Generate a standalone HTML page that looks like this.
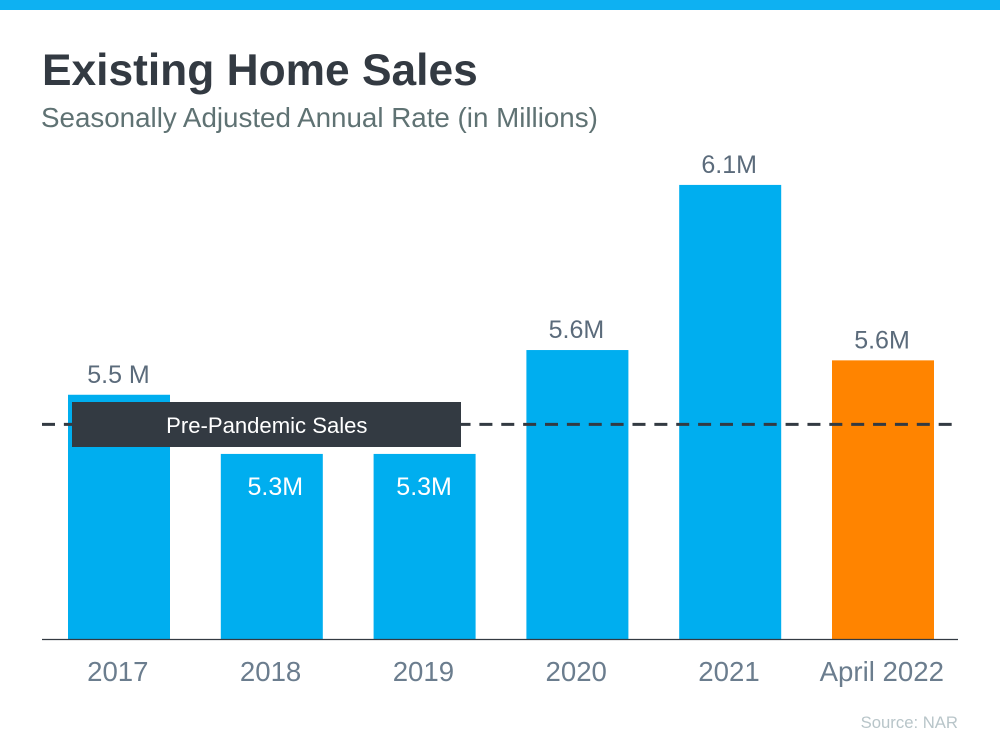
<!DOCTYPE html>
<html lang="en">
<head>
<meta charset="utf-8">
<title>Existing Home Sales</title>
<style>
html,body{margin:0;padding:0;background:#fff;}
#stage{display:block;width:1000px;height:750px;}
text{font-family:"Liberation Sans",Arial,sans-serif;}
</style>
</head>
<body>
<svg id="stage" width="1000" height="750" viewBox="0 0 1000 750" xmlns="http://www.w3.org/2000/svg">
  <rect x="0" y="0" width="1000" height="750" fill="#ffffff"/>
  <rect x="0" y="0" width="1000" height="10" fill="#0eb1f2"/>
  <text x="42" y="85" font-size="44.3" font-weight="700" fill="#333a42">Existing Home Sales</text>
  <text x="41" y="127" font-size="27.75" fill="#5f7273">Seasonally Adjusted Annual Rate (in Millions)</text>
  <g id="bars"></g>
  <line id="ref-line" x1="42" x2="958" stroke="#333a42" stroke-width="3" stroke-dasharray="13 8.87"></line>
  <rect id="ref-box" x="72" y="402" width="389" height="45" fill="#333a42"/>
  <text id="ref-text" x="266.8" y="433" font-size="22.1" fill="#ffffff" text-anchor="middle">Pre-Pandemic Sales</text>
  <g id="value-labels"></g>
  <line x1="42" x2="958" y1="639.5" y2="639.5" stroke="#333a42" stroke-width="1.2"/>
  <g id="x-labels"></g>
  <text x="958" y="728" font-size="16.7" fill="#b8c5c9" text-anchor="end">Source: NAR</text>
</svg>
<script>
const categories = ["2017", "2018", "2019", "2020", "2021", "April 2022"];
const salesValues = [5.51, 5.338, 5.338, 5.64, 6.12, 5.61];
const valueLabels = ["5.5 M", "5.3M", "5.3M", "5.6M", "6.1M", "5.6M"];
const labelInside = [false, true, true, false, false, false];
const highlighted = [false, false, false, false, false, true];
const referenceValue = 5.424;

const NS = "http://www.w3.org/2000/svg";
const AXIS_MIN = 4.8;
const PX_PER_UNIT = 344;
const BASELINE = 639;
const FIRST_CENTER = 119;
const STEP = 152.8;
const BAR_WIDTH = 102;

function yScale(v) { return BASELINE - (v - AXIS_MIN) * PX_PER_UNIT; }
function xCenter(i) { return FIRST_CENTER + STEP * i; }
function valueLabelX(i) {
  if (i === 0) return xCenter(i) - 0.5;
  if (!labelInside[i]) return xCenter(i) - 1;
  return i === 1 ? xCenter(i) + 3.5 : xCenter(i) - 0.5;
}

const barsGroup = document.getElementById("bars");
const valuesGroup = document.getElementById("value-labels");
const xGroup = document.getElementById("x-labels");

categories.forEach(function (cat, i) {
  const top = yScale(salesValues[i]);
  const cx = xCenter(i);

  const bar = document.createElementNS(NS, "rect");
  
  
  bar.setAttribute("x", cx - BAR_WIDTH / 2);
  bar.setAttribute("y", top);
  bar.setAttribute("width", BAR_WIDTH);
  bar.setAttribute("height", BASELINE - top);
  bar.setAttribute("fill", highlighted[i] ? "#ff8400" : "#00aeef");
  barsGroup.appendChild(bar);

  const val = document.createElementNS(NS, "text");
  
  
  val.setAttribute("x", valueLabelX(i));
  val.setAttribute("y", labelInside[i] ? top + 41 : top - 12);
  val.setAttribute("font-size", "25");
  val.setAttribute("text-anchor", "middle");
  val.setAttribute("fill", labelInside[i] ? "#ffffff" : "#5b6b7b");
  val.textContent = valueLabels[i];
  valuesGroup.appendChild(val);

  const lab = document.createElementNS(NS, "text");
  
  
  lab.setAttribute("x", cx - 1.2);
  lab.setAttribute("y", 681);
  lab.setAttribute("font-size", "27.6");
  lab.setAttribute("text-anchor", "middle");
  lab.setAttribute("fill", "#6b7d8e");
  lab.textContent = cat;
  xGroup.appendChild(lab);
});

const refLine = document.getElementById("ref-line");
refLine.setAttribute("y1", yScale(referenceValue));
refLine.setAttribute("y2", yScale(referenceValue));
</script>
</body>
</html>
